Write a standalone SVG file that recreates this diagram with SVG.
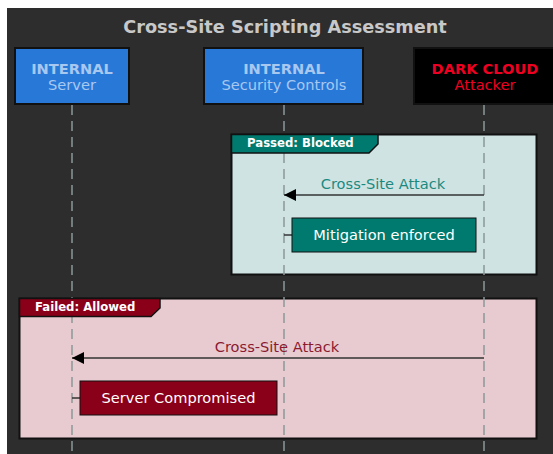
<svg xmlns="http://www.w3.org/2000/svg" width="553" height="454" viewBox="0 0 553 454">
  <style>
    text { font-family: "DejaVu Sans", "Liberation Sans", sans-serif; }
    .title { font-size: 17.7px; font-weight: bold; fill: #c8c8c8; }
    .box-int { fill: #2878d8; stroke: #111; stroke-width: 2; }
    .box-ext { fill: #000; stroke: #111; stroke-width: 2; }
    .lbl-int-b { font-size: 14.6px; font-weight: bold; fill: #a9c8f0; }
    .lbl-int { font-size: 14.6px; fill: #a9c8f0; }
    .lbl-ext-b { font-size: 14.6px; font-weight: bold; fill: #ee0022; }
    .lbl-ext { font-size: 14.6px; fill: #ee0022; }
    .lifeline { stroke: #8a9898; stroke-width: 1.5; stroke-dasharray: 10 6; fill: none; }
    .frame { stroke: #111; stroke-width: 2; }
    .tab-text { font-size: 11.7px; font-weight: bold; fill: #fff; }
    .msg { stroke: #333; stroke-width: 1.5; fill: none; }
    .msg-lbl { font-size: 14.6px; }
    .note-text { font-size: 14.6px; fill: #fff; }
    .note { stroke: #111; stroke-width: 1; }
  </style>
  <defs>
    <marker id="head" viewBox="0 0 12 12" refX="12" refY="6" markerWidth="12" markerHeight="12" markerUnits="userSpaceOnUse" orient="auto">
      <path d="M0,0 L12,6 L0,12 Z" fill="#000"/>
    </marker>
  </defs>

  <!-- canvas -->
  <rect x="0" y="0" width="553" height="454" fill="#ffffff"/>
  <rect x="7" y="8" width="546" height="446" fill="#2d2d2d"/>
  <text class="title" x="285" y="33" text-anchor="middle">Cross-Site Scripting Assessment</text>

  <!-- frames -->
  <g id="frame-passed">
    <rect class="frame" x="231.5" y="134.5" width="305" height="140" fill="#cfe3e3"/>
  </g>
  <g id="frame-failed">
    <rect class="frame" x="19.5" y="298.5" width="517" height="140" fill="#e8cbd0"/>
  </g>

  <!-- lifelines -->
  <g id="lifelines">
    <line class="lifeline" x1="72" y1="105" x2="72" y2="454"/>
    <line class="lifeline" x1="284" y1="105" x2="284" y2="454"/>
    <line class="lifeline" x1="484" y1="105" x2="484" y2="454"/>
  </g>

  <!-- frame tabs -->
  <g id="tab-passed">
    <path d="M231.5,134.5 H378 V144 L369,153 H231.5 Z" fill="#007a6e" stroke="#111" stroke-width="1.5"/>
    <text class="tab-text" x="247" y="147">Passed: Blocked</text>
  </g>
  <g id="tab-failed">
    <path d="M19.5,298.5 H160 V308 L151,316.5 H19.5 Z" fill="#8b0019" stroke="#111" stroke-width="1.5"/>
    <text class="tab-text" x="35" y="310.5">Failed: Allowed</text>
  </g>

  <!-- participants -->
  <g id="server">
    <rect class="box-int" x="15" y="48" width="114" height="56"/>
    <text class="lbl-int-b" x="72" y="74" text-anchor="middle">INTERNAL</text>
    <text class="lbl-int" x="72" y="90" text-anchor="middle">Server</text>
  </g>
  <g id="security-controls">
    <rect class="box-int" x="204" y="48" width="159" height="56"/>
    <text class="lbl-int-b" x="284" y="74" text-anchor="middle">INTERNAL</text>
    <text class="lbl-int" x="284" y="90" text-anchor="middle">Security Controls</text>
  </g>
  <g id="attacker">
    <rect class="box-ext" x="414" y="48" width="142" height="56"/>
    <text class="lbl-ext-b" x="485" y="74" text-anchor="middle">DARK CLOUD</text>
    <text class="lbl-ext" x="485" y="90" text-anchor="middle">Attacker</text>
  </g>

  <!-- messages -->
  <g id="connectors">
    <line class="msg" x1="484" y1="195" x2="284" y2="195" marker-end="url(#head)"/>
    <text class="msg-lbl" x="383" y="189" text-anchor="middle" fill="#1a8a80">Cross-Site Attack</text>
    <line class="msg" x1="284" y1="235" x2="292" y2="235"/>
    <line class="msg" x1="484" y1="358" x2="72" y2="358" marker-end="url(#head)"/>
    <text class="msg-lbl" x="277" y="352" text-anchor="middle" fill="#8b1a30">Cross-Site Attack</text>
    <line class="msg" x1="72" y1="398" x2="80" y2="398"/>
  </g>

  <!-- notes -->
  <g id="mitigation">
    <rect class="note" x="292" y="218" width="184" height="34" fill="#007a6e"/>
    <text class="note-text" x="384" y="240" text-anchor="middle">Mitigation enforced</text>
  </g>
  <g id="compromised">
    <rect class="note" x="80" y="381" width="197" height="34" fill="#8b0019"/>
    <text class="note-text" x="178.5" y="403" text-anchor="middle">Server Compromised</text>
  </g>
</svg>
